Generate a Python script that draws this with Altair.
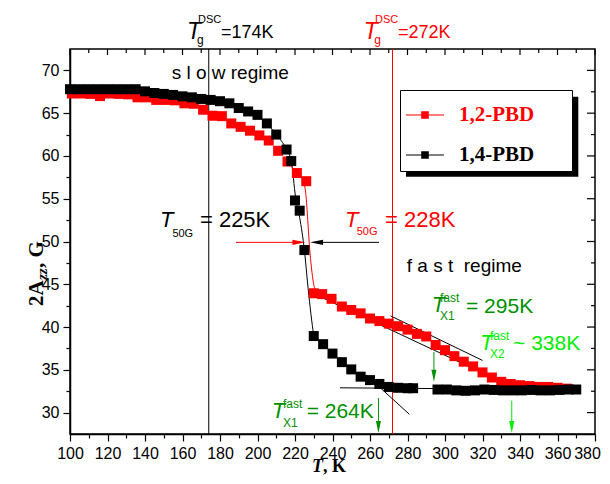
import altair as alt
import pandas as pd

# ---------------- data ----------------
# 1,2-PBD (red squares): temperature T [K] and 2Azz [G]
T12 = [101, 106, 111, 116, 121, 126, 131, 136, 141, 146, 151, 156, 161, 166, 171,
       176, 181, 186, 191, 196, 201, 206, 211, 216, 221, 226,
       230, 234.5, 239.5,
       245, 250, 255, 260, 265, 270, 275, 280, 285, 290, 295, 300, 305, 310, 315,
       320, 325, 330, 335, 340, 345, 350, 355, 360, 365]
A12 = [67.3, 67.3, 67.25, 67.0, 67.3, 67.25, 67.2, 66.85, 66.85, 66.55, 66.55, 66.5, 66.15, 66.1, 65.4,
       64.7, 64.65, 63.8, 63.4, 62.95, 62.4, 61.8, 60.6, 59.35, 58.0, 57.05,
       43.95, 43.85, 43.3,
       42.4, 42.0, 41.6, 41.0, 40.7, 40.4, 40.1, 39.7, 39.2, 38.9, 37.9, 37.3, 36.6, 35.95, 35.4,
       34.7, 34.1, 33.6, 33.35, 33.2, 33.1, 33.0, 33.0, 32.9, 32.8]

# 1,4-PBD (black squares)
T14 = [100, 105, 110, 115, 120, 125, 130, 135, 140, 145, 150, 155, 160, 165, 170, 175,
       180, 185, 190, 195, 200, 205, 210,
       215.5, 218, 220, 222.5, 225,
       230, 235, 240, 245, 250, 255, 260, 265, 270, 275, 280, 283,
       296, 301, 306, 311, 316, 321, 326, 331, 336, 341, 346, 351, 356, 361, 366, 370]
A14 = [67.8, 67.8, 67.8, 67.8, 67.8, 67.8, 67.8, 67.8, 67.55, 67.36, 67.25, 67.13, 66.97, 66.85, 66.66, 66.55,
       66.4, 66.15, 65.6, 65.2, 64.8, 63.8, 62.5,
       60.75, 59.4, 54.8, 53.6, 49.0,
       38.95, 38.0, 36.9, 35.9, 35.05, 34.2, 33.8, 33.35, 33.0, 32.9, 32.85, 32.85,
       32.7, 32.7, 32.6, 32.55, 32.6, 32.7, 32.65, 32.6, 32.6, 32.6, 32.65, 32.6, 32.6, 32.65, 32.7, 32.7]

# thin fitted curves through the step
FIT12_T = [216, 221, 224, 225.8, 226.8, 227.6, 228.5, 229.6, 230.6, 232]
FIT12_A = [59.35, 58.0, 57.3, 55.5, 52.5, 49.8, 47.5, 45.5, 44.4, 43.9]
FIT14_T = [205, 210, 215.5, 218, 220.3, 222.5, 225, 227, 228.5, 230]
FIT14_A = [63.8, 62.5, 60.75, 59.4, 55.2, 52.8, 49.0, 44.5, 41.5, 38.95]

# black tangent lines (start / end)
TAN_T1 = [230, 271, 258, 244]
TAN_A1 = [43.9, 41.3, 34.4, 32.9]
TAN_T2 = [335, 320, 281, 300]
TAN_A2 = [33.1, 36.1, 29.8, 32.8]

TG_BLACK = 174
TG_RED = 272
T50 = 49.9

X_TICKS = list(range(100, 381, 10))
Y_TICKS = [30 + 2.5 * i for i in range(17)]
SAMPLES = ["1,2-PBD", "1,4-PBD"]

# ---------------- styling ----------------
SANS = "Liberation Sans"
SERIF = "Liberation Serif"
RED = "#ff0000"
DKGREEN = "#009000"
LIME = "#00ee00"
SP = "\u00a0"

xscale = alt.Scale(domain=[100, 380], nice=False, zero=False)
yscale = alt.Scale(domain=[27.5, 72.5], nice=False, zero=False)

xaxis = alt.Axis(values=X_TICKS, labelExpr="datum.value % 20 == 0 ? datum.label : ''",
                 tickSize={"condition": {"test": "datum.value % 20 == 0", "value": 7}, "value": 4},
                 labelOffset={"condition": {"test": "datum.value == 380", "value": -8}, "value": 0},
                 labelFlush=False, labelOverlap=False, labelFont=SANS, labelFontSize=16,
                 labelColor="black", tickColor="black", tickWidth=1.2, domainColor="black",
                 domainWidth=1.5, labelPadding=4, grid=False, format="d")
yaxis = alt.Axis(values=Y_TICKS, labelExpr="datum.value % 5 == 0 ? datum.label : ''",
                 tickSize={"condition": {"test": "datum.value % 5 == 0", "value": 7}, "value": 4},
                 labelFlush=False, labelOverlap=False, labelFont=SANS, labelFontSize=16,
                 labelColor="black", tickColor="black", tickWidth=1.2, domainColor="black",
                 domainWidth=1.5, labelPadding=4, grid=False)

xenc = alt.X("T:Q", scale=xscale, axis=xaxis, title=None)
yenc = alt.Y("A:Q", scale=yscale, axis=yaxis, title=None)

LEG_SYMBOL = "M-1,-0.028H1V0.028H-1Z M-0.2,-0.2H0.2V0.2H-0.2Z"
legend = alt.Legend(title="MMM", titleOrient="right", titleColor="white", titleFontSize=11,
                    titlePadding=4, titleFont=SANS,
                    orient="none", legendX=330, legendY=41,
                    fillColor="white", strokeColor="black", padding=6,
                    symbolType=LEG_SYMBOL, symbolSize=1444, symbolStrokeWidth=0,
                    symbolOpacity=1, labelFont=SERIF, labelFontSize=21, labelFontWeight="bold",
                    labelColor=alt.ExprRef(expr="datum.value == '1,2-PBD' ? '#ff0000' : '#000000'"),
                    labelOffset=15, rowPadding=11, labelLimit=400)
cenc = alt.Color("sample:N", scale=alt.Scale(domain=SAMPLES, range=[RED, "black"]), legend=legend)

ONE = pd.DataFrame({"k": [0]})


def pt(t, a):
    return pd.DataFrame({"T": [t], "A": [a]})


layers = []

# legend shadow (drawn first, the legend box covers most of it)
layers.append(alt.Chart(pd.DataFrame({"T": [279.2], "A": [66.92], "T2": [371.1], "A2": [57.57]}))
              .mark_rect(color="black").encode(x=xenc, y=yenc, x2="T2", y2="A2"))

# reference lines
layers.append(alt.Chart(pd.DataFrame({"T": [TG_BLACK]})).mark_rule(color="black", strokeWidth=1).encode(x=xenc))
layers.append(alt.Chart(pd.DataFrame({"T": [TG_RED]})).mark_rule(color=RED, strokeWidth=1).encode(x=xenc))

# tangents
layers.append(alt.Chart(pd.DataFrame({"T": TAN_T1, "A": TAN_A1, "T2": TAN_T2, "A2": TAN_A2}))
              .mark_rule(color="black", strokeWidth=1).encode(x=xenc, y=yenc, x2="T2", y2="A2"))

# fitted curves
layers.append(alt.Chart(pd.DataFrame({"T": FIT14_T, "A": FIT14_A}))
              .mark_line(color="black", strokeWidth=1, interpolate="monotone").encode(x=xenc, y=yenc))
layers.append(alt.Chart(pd.DataFrame({"T": FIT12_T, "A": FIT12_A}))
              .mark_line(color=RED, strokeWidth=1, interpolate="monotone").encode(x=xenc, y=yenc))

# data squares (red below black)
df12 = pd.DataFrame({"T": T12, "A": A12, "sample": SAMPLES[0]})
df14 = pd.DataFrame({"T": T14, "A": A14, "sample": SAMPLES[1]})
layers.append(alt.Chart(df12).mark_square(size=100, opacity=1).encode(x=xenc, y=yenc, color=cenc))
layers.append(alt.Chart(df14).mark_square(size=100, opacity=1).encode(x=xenc, y=yenc, color=cenc))

# arrows
TRI_R = "M-1,-0.4L1,0L-1,0.4Z"
TRI_L = "M1,-0.4L-1,0L1,0.4Z"
TRI_D = "M-0.42,-1L0.42,-1L0,1Z"


def arrow(t1, a1, t2, a2, color, shape, ht, ha, size):
    shaft = alt.Chart(pd.DataFrame({"T": [t1], "A": [a1], "T2": [t2], "A2": [a2]})).mark_rule(
        color=color, strokeWidth=1).encode(x=xenc, y=yenc, x2="T2", y2="A2")
    head = alt.Chart(pt(ht, ha)).mark_point(shape=shape, filled=True, size=size, color=color,
                                            opacity=1, strokeWidth=0).encode(x=xenc, y=yenc)
    return [shaft, head]


layers += arrow(188.5, T50, 222.1, T50, RED, TRI_R, 222.1, T50, 169)
layers += arrow(264.8, T50, 231.5, T50, "black", TRI_L, 231.5, T50, 169)
layers += arrow(264.5, 31.7, 264.5, 28.4, DKGREEN, TRI_D, 264.5, 28.32, 144)
layers += arrow(294.1, 37.1, 294.1, 34.4, DKGREEN, TRI_D, 294.1, 34.32, 144)
layers += arrow(335.6, 31.4, 335.6, 28.4, LIME, TRI_D, 335.6, 28.32, 144)


def label(t, a, s, size, color="black", style="normal", weight="normal", font=SANS):
    return alt.Chart(pt(t, a)).mark_text(text=s, fontSize=size, color=color, fontStyle=style,
                                         fontWeight=weight, font=font, align="left",
                                         baseline="alphabetic").encode(x=xenc, y=yenc)


# T_g^DSC labels above the frame
layers += [label(162.4, 73.67, "T", 23, style="italic"),
           label(168.3, 75.49, "DSC", 11),
           label(167.7, 73.08, "g", 12),
           label(180.5, 73.79, "=174K", 18)]
layers += [label(256.6, 73.67, "T", 23, RED, style="italic"),
           label(262.7, 75.49, "DSC", 11, RED),
           label(262.2, 73.08, "g", 12, RED),
           label(274.9, 73.79, "=272K", 18, RED)]
# regimes
layers.append(label(154.2, 68.96, "s l o w regime", 19))
layers.append(label(279.6, 46.47, "f a s t" + SP + SP + "regime", 19))
# T50G
layers += [label(148.0, 51.73, "T", 22, style="italic"),
           label(154.6, 50.56, "50G", 11),
           label(169.3, 51.73, "= 225K", 22)]
layers += [label(246.7, 51.73, "T", 22, RED, style="italic"),
           label(252.9, 50.76, "50G", 11, RED),
           label(268.0, 51.73, "= 228K", 22, RED)]
# crossover temperatures
layers += [label(292.9, 41.8, "T", 22, DKGREEN, style="italic"),
           label(297.3, 42.96, "fast", 12, DKGREEN),
           label(297.3, 40.83, "X1", 12, DKGREEN),
           label(311.2, 41.6, "= 295K", 21, DKGREEN)]
layers += [label(318.7, 37.32, "T", 22, LIME, style="italic"),
           label(324.0, 38.49, "fast", 12, LIME),
           label(324.0, 36.38, "X2", 12, LIME),
           label(336.3, 37.32, "~ 338K", 21, LIME)]
layers += [label(207.6, 29.37, "T", 22, DKGREEN, style="italic"),
           label(213.6, 30.54, "fast", 12, DKGREEN),
           label(213.6, 28.32, "X1", 12, DKGREEN),
           label(226.2, 29.37, "= 264K", 21, DKGREEN)]

# inner ticks on top and right frame
X_MAJ = [v for v in X_TICKS if v % 20 == 0]
X_MIN = [v for v in X_TICKS if v % 20 != 0]
Y_MAJ = [v for v in Y_TICKS if v % 5 == 0]
Y_MIN = [v for v in Y_TICKS if v % 5 != 0]
layers.append(alt.Chart(pd.DataFrame({"T": X_MAJ})).mark_rule(color="black", strokeWidth=1.2)
              .encode(x=xenc, y=alt.value(0), y2=alt.value(6)))
layers.append(alt.Chart(pd.DataFrame({"T": X_MIN})).mark_rule(color="black", strokeWidth=1.2)
              .encode(x=xenc, y=alt.value(0), y2=alt.value(4)))
layers.append(alt.Chart(pd.DataFrame({"A": Y_MAJ})).mark_rule(color="black", strokeWidth=1.2)
              .encode(y=yenc, x=alt.value(525), x2=alt.value(517)))
layers.append(alt.Chart(pd.DataFrame({"A": Y_MIN})).mark_rule(color="black", strokeWidth=1.2)
              .encode(y=yenc, x=alt.value(525), x2=alt.value(521)))


# axis titles (rich text)
def ptext(x, y, s, size, style="normal", angle=0):
    return alt.Chart(ONE).mark_text(text=s, fontSize=size, font=SERIF, fontWeight="bold",
                                    fontStyle=style, align="left", baseline="alphabetic",
                                    angle=angle, color="black").encode(x=alt.value(x), y=alt.value(y))


layers += [ptext(-27, 257, "2A", 21, angle=270),
           ptext(-23, 231, "zz", 15, style="italic", angle=270),
           ptext(-27, 219, SP + "," + SP + "G", 21, angle=270)]
layers += [ptext(242, 423, "T", 18, style="italic"),
           ptext(253, 423, SP + "," + SP + "K", 18)]

chart = alt.layer(*layers).properties(
    width=525, height=385,
    autosize=alt.AutoSizeParams(type="none"),
    padding={"left": 62, "top": 41, "right": 7, "bottom": 42},
).configure_view(stroke="black", strokeWidth=1.5)

chart.save("out.html", embed_options={"renderer": "svg", "actions": False})
